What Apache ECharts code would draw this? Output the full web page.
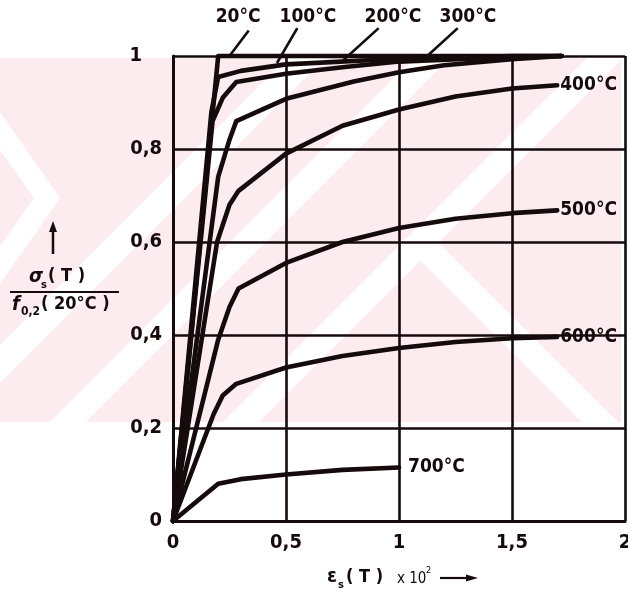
<!DOCTYPE html>
<html>
<head>
<meta charset="utf-8">
<script src="https://cdn.jsdelivr.net/npm/echarts@6/dist/echarts.min.js"></script>
<style>
html,body{margin:0;padding:0;background:#fff;}
#chart{width:628px;height:597px;}
</style>
</head>
<body>
<div id="chart"></div>
<script>
// ---- data (strain ×10², stress ratio) ----
const temps = ['20°C', '100°C', '200°C', '300°C', '400°C', '500°C', '600°C', '700°C'];
const curve20  = [[0,0],[0.2,1.0],[1.72,1.0]];
const curve100 = [[0,0],[0.17,0.88],[0.2,0.955],[0.3,0.968],[0.5,0.982],[1.0,0.994],[1.5,1.0],[1.72,1.0]];
const curve200 = [[0,0],[0.175,0.86],[0.22,0.91],[0.28,0.944],[0.5,0.962],[0.75,0.976],[1.0,0.988],[1.5,0.998],[1.72,1.0]];
const curve300 = [[0,0],[0.2,0.74],[0.25,0.82],[0.28,0.86],[0.5,0.908],[0.8,0.945],[1.0,0.965],[1.2,0.98],[1.5,0.993],[1.72,1.0]];
const curve400 = [[0,0],[0.195,0.6],[0.25,0.68],[0.29,0.71],[0.5,0.79],[0.75,0.85],[1.0,0.885],[1.25,0.913],[1.5,0.93],[1.7,0.937]];
const curve500 = [[0,0],[0.2,0.39],[0.25,0.46],[0.29,0.50],[0.5,0.555],[0.75,0.6],[1.0,0.63],[1.25,0.65],[1.5,0.662],[1.7,0.668]];
const curve600 = [[0,0],[0.18,0.23],[0.22,0.27],[0.28,0.295],[0.5,0.33],[0.75,0.355],[1.0,0.372],[1.25,0.385],[1.5,0.393],[1.7,0.396]];
const curve700 = [[0,0],[0.2,0.08],[0.3,0.09],[0.5,0.1],[0.75,0.11],[1.0,0.115]];
const curves = [curve20, curve100, curve200, curve300, curve400, curve500, curve600, curve700];
const xTickValues = [0, 0.5, 1, 1.5, 2];
const xTickLabels = ['0', '0,5', '1', '1,5', '2'];
const yTickValues = [0, 0.2, 0.4, 0.6, 0.8, 1];
const yTickLabels = ['0', '0,2', '0,4', '0,6', '0,8', '1'];
// end-labelled curves (right side) and top-labelled curves (with leader lines)
const endLabelled = ['400°C', '500°C', '600°C', '700°C'];
const topLabelled = ['20°C', '100°C', '200°C', '300°C'];

const FONT = "'DejaVu Sans Condensed', 'Liberation Sans Narrow', sans-serif";
const INK = '#150a0c';
const PINK = '#fdecef';

function lookup(vals, labels, v) {
  for (let i = 0; i < vals.length; i++) if (Math.abs(vals[i] - v) < 1e-9) return labels[i];
  return '';
}

const chart = echarts.init(document.getElementById('chart'), null, {renderer: 'canvas'});

const series = curves.map((c, i) => ({
  type: 'line',
  name: temps[i],
  data: c,
  showSymbol: false,
  symbol: 'none',
  clip: false,
  z: 5,
  lineStyle: {color: INK, width: 4.6, join: 'round', cap: 'round'},
  endLabel: {
    show: endLabelled.indexOf(temps[i]) >= 0,
    formatter: temps[i],
    color: INK,
    fontFamily: FONT,
    fontWeight: 'bold',
    fontSize: 19,
    distance: temps[i] === '700°C' ? 9 : 3
  }
}));

// watermark (decorative background)
const water = [
  {type: 'rect', z: -20, shape: {x: 0, y: 58, width: 621, height: 364}, style: {fill: PINK}},
  {type: 'polygon', z: -19, shape: {points: [[0,112],[0,150],[34,198],[0,246],[0,284],[60,198]]}, style: {fill: '#fff'}},
  {type: 'polygon', z: -19, shape: {points: [[0,345],[0,383],[383,0],[345,0]]}, style: {fill: '#fff'}},
  {type: 'polygon', z: -19, shape: {points: [[0,472],[0,508],[508,0],[472,0]]}, style: {fill: '#fff'}},
  {type: 'polygon', z: -19, shape: {points: [[200,445],[236,445],[700,-19],[664,-19]]}, style: {fill: '#fff'}},
  {type: 'polygon', z: -19, shape: {points: [[400,240],[436,240],[620,424],[584,424]]}, style: {fill: '#fff'}}
];

chart.setOption({
  backgroundColor: '#fff',
  animation: false,
  grid: {left: 173, top: 56, width: 452, height: 465, show: false, containLabel: false, outerBoundsMode: 'none'},
  xAxis: {
    type: 'value', min: 0, max: 2, interval: 0.5,
    axisLine: {show: true, lineStyle: {color: INK, width: 3}},
    axisTick: {show: false},
    splitLine: {show: true, lineStyle: {color: INK, width: 2.6}},
    axisLabel: {
      color: INK, fontFamily: FONT, fontWeight: 'bold', fontSize: 20, margin: 12,
      formatter: v => lookup(xTickValues, xTickLabels, v)
    }
  },
  yAxis: {
    type: 'value', min: 0, max: 1, interval: 0.2,
    axisLine: {show: true, lineStyle: {color: INK, width: 3}},
    axisTick: {show: false},
    splitLine: {show: true, lineStyle: {color: INK, width: 2.6}},
    axisLabel: {
      color: INK, fontFamily: FONT, fontWeight: 'bold', fontSize: 20, margin: 11,
      formatter: v => {
        const s = lookup(yTickValues, yTickLabels, v);
        return s === '1' ? '{one|1}' : s;
      },
      rich: {one: {color: INK, fontFamily: FONT, fontWeight: 'bold', fontSize: 20, padding: [0, 20, 0, 0]}}
    }
  },
  series: series,
  graphic: water
});

// annotations positioned from data coordinates
function px(p) { return chart.convertToPixel({gridIndex: 0}, p); }
const leaders = {
  '20°C':  {from: [0.25, 1.0],  to: [0.335, 1.055], text: [0.288, 1.084]},
  '100°C': {from: [0.46, 0.985], to: [0.55, 1.06],  text: [0.597, 1.084]},
  '200°C': {from: [0.74, 0.985], to: [0.91, 1.06],  text: [0.973, 1.084]},
  '300°C': {from: [1.12, 0.998], to: [1.26, 1.06],  text: [1.305, 1.084]}
};
const extra = [];
topLabelled.forEach(t => {
  const L = leaders[t];
  const a = px(L.from), b = px(L.to), c = px(L.text);
  extra.push({type: 'line', z: 6, shape: {x1: a[0], y1: a[1], x2: b[0], y2: b[1]}, style: {stroke: INK, lineWidth: 2.6}});
  extra.push({type: 'text', z: 6, x: c[0], y: c[1], style: {text: t, fill: INK, font: 'bold 19px ' + FONT, textAlign: 'center', textVerticalAlign: 'middle'}});
});
// y-axis title (fraction with arrow)
extra.push({type: 'line', z: 6, shape: {x1: 53, y1: 228, x2: 53, y2: 254}, style: {stroke: INK, lineWidth: 2.5}});
extra.push({type: 'polygon', z: 6, shape: {points: [[49,232],[57,232],[53,221]]}, style: {fill: INK}});
extra.push({type: 'text', z: 6, x: 29, y: 277, style: {text: 'σ', fill: INK, font: 'italic bold 20px ' + FONT, textVerticalAlign: 'middle'}});
extra.push({type: 'text', z: 6, x: 41, y: 285, style: {text: 's', fill: INK, font: 'bold 11px ' + FONT, textVerticalAlign: 'middle'}});
extra.push({type: 'text', z: 6, x: 48, y: 276, style: {text: '( T )', fill: INK, font: 'bold 18px ' + FONT, textVerticalAlign: 'middle'}});
extra.push({type: 'line', z: 6, shape: {x1: 10, y1: 292, x2: 119, y2: 292}, style: {stroke: INK, lineWidth: 2.2}});
extra.push({type: 'text', z: 6, x: 12, y: 305, style: {text: 'f', fill: INK, font: 'italic bold 20px ' + FONT, textVerticalAlign: 'middle'}});
extra.push({type: 'text', z: 6, x: 21, y: 312, style: {text: '0,2', fill: INK, font: 'bold 12px ' + FONT, textVerticalAlign: 'middle'}});
extra.push({type: 'text', z: 6, x: 41, y: 304, style: {text: '( 20°C )', fill: INK, font: 'bold 18px ' + FONT, textVerticalAlign: 'middle'}});
// x-axis title
extra.push({type: 'text', z: 6, x: 327, y: 577, style: {text: 'ε', fill: INK, font: 'bold 20px ' + FONT, textVerticalAlign: 'middle'}});
extra.push({type: 'text', z: 6, x: 338, y: 585, style: {text: 's', fill: INK, font: 'bold 11px ' + FONT, textVerticalAlign: 'middle'}});
extra.push({type: 'text', z: 6, x: 346, y: 577, style: {text: '( T )', fill: INK, font: 'bold 18px ' + FONT, textVerticalAlign: 'middle'}});
extra.push({type: 'text', z: 6, x: 397, y: 579, style: {text: 'x 10', fill: INK, font: '15px ' + FONT, textVerticalAlign: 'middle'}});
extra.push({type: 'text', z: 6, x: 426, y: 571, style: {text: '2', fill: INK, font: '9px ' + FONT, textVerticalAlign: 'middle'}});
extra.push({type: 'line', z: 6, shape: {x1: 440, y1: 578, x2: 470, y2: 578}, style: {stroke: INK, lineWidth: 2.2}});
extra.push({type: 'polygon', z: 6, shape: {points: [[466,574.5],[466,581.5],[478,578]]}, style: {fill: INK}});

chart.setOption({graphic: water.concat(extra)});
</script>
</body>
</html>
